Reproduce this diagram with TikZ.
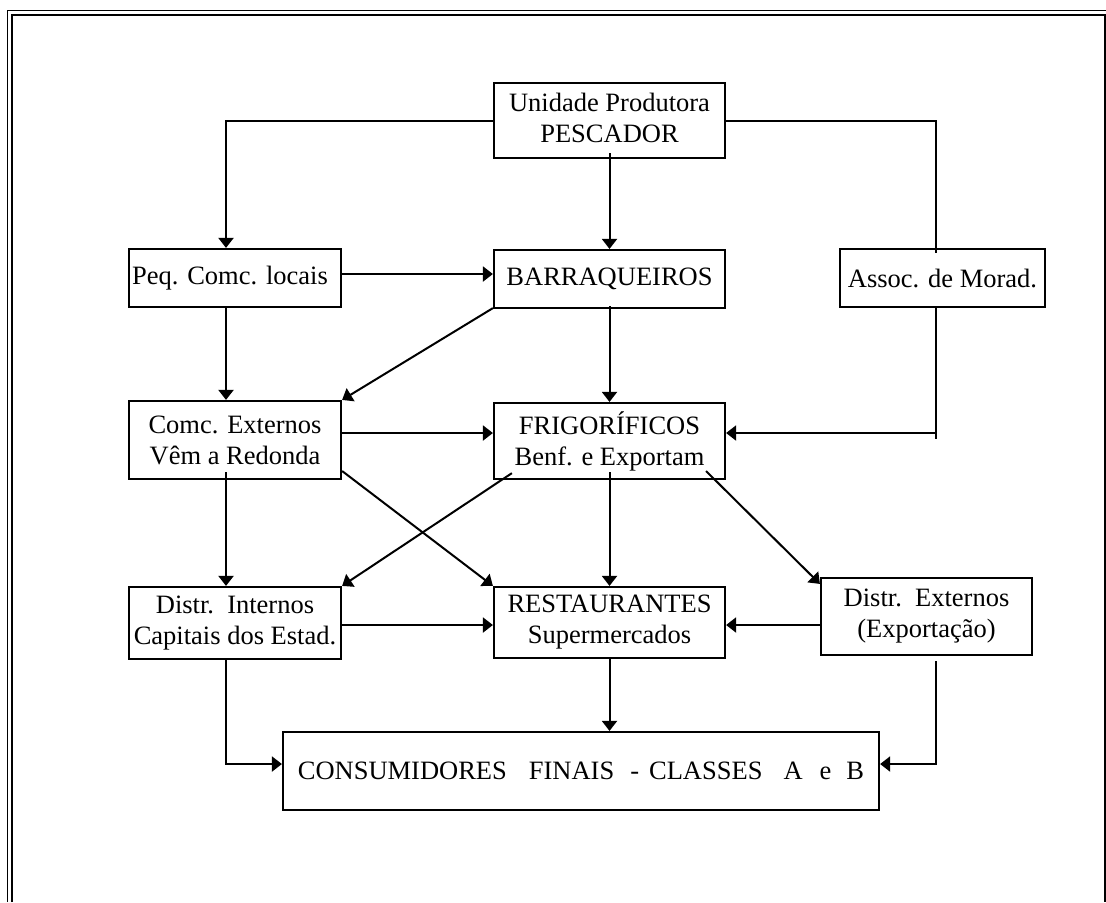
\documentclass[tikz,border=0pt]{standalone}
\usepackage{fontspec}
\setmainfont{Liberation Serif}
\usetikzlibrary{arrows.meta}
\begin{document}
\begin{tikzpicture}[x=0.5pt,y=-0.5pt,
  box/.style={draw,line width=1.1pt,inner sep=0pt,align=center,
    font=\fontsize{13.25pt}{15.5pt}\selectfont},
  conn/.style={line width=1pt,line join=miter},
  arr/.style={conn,-{Triangle[length=5pt,width=7.5pt]}},
  frameline/.style={line width=0.85pt}]
\useasboundingbox (0,0) rectangle (1106,902);
% frame
\draw[frameline] (7.5,902) -- (7.5,10.5) -- (1106,10.5);
\draw[frameline] (11.8,902) -- (11.8,14.8) -- (1105,14.8) -- (1105,902);
% column coordinates
\coordinate (xl) at (226,0);
\coordinate (xr) at (936,0);
% nodes
\node[box,minimum width=115.5pt,minimum height=37.5pt] (unid) at (609.5,120.5) {\raisebox{-1pt}{\begin{tabular}{@{}c@{}}Unidade Produtora\\PESCADOR\end{tabular}}};
\node[box,minimum width=115.5pt,minimum height=29pt] (barr) at (609.5,279) {BARRAQUEIROS};
\node[box,minimum width=106pt,minimum height=29pt] (peq) at (235,278) {\hspace*{-5pt}Peq. Comc. locais};
\node[box,minimum width=102.5pt,minimum height=29pt] (assoc) at (942.5,278) {Assoc. de Morad.};
\node[box,minimum width=106pt,minimum height=39pt] (comc) at (235,440) {Comc. Externos\\Vêm a Redonda};
\node[box,minimum width=115.5pt,minimum height=38pt] (frig) at (609.5,441) {FRIGORÍFICOS\\Benf. e Exportam};
\node[box,minimum width=106pt,minimum height=36pt] (dint) at (235,623) {Distr.\ \ Internos\\Capitais dos Estad.};
\node[box,minimum width=115.5pt,minimum height=35.5pt] (rest) at (609.5,622.5) {RESTAURANTES\\Supermercados};
\node[box,minimum width=105.5pt,minimum height=38.5pt] (dext) at (926.5,616.5) {Distr.\ \ Externos\\(Exportação)};
\node[box,minimum width=298pt,minimum height=39pt] (cons) at (581,771) {CONSUMIDORES\hspace{11pt}FINAIS\hspace{8pt}-\hspace{5pt}CLASSES\hspace{10.5pt}A\hspace{8.5pt}e\hspace{7.5pt}B};
% connectors
\draw[arr] (unid.west) -| (peq.north -| xl);
\draw[conn] (unid.east) -| ([yshift=-2.5pt]assoc.north -| xr);
\draw[arr] ([yshift=3pt]unid.south) -- (barr.north);
\draw[arr] (peq.east |- 0,274) -- (barr.west |- 0,274);
\draw[arr] ([yshift=1pt]peq.south -| xl) -- (comc.north -| xl);
\draw[arr] ([yshift=0.5pt]barr.south west) -- (comc.north east);
\draw[arr] ([yshift=1.5pt]barr.south) -- (frig.north);
\coordinate (aend) at (936,439);
\draw[conn] (assoc.south -| xr) -- (aend);
\draw[arr] (xr |- 0,433) -- (frig.east |- 0,433);
\draw[arr] (comc.east |- 0,433) -- (frig.west |- 0,433);
\draw[arr] (comc.east |- 0,471) -- (rest.north west);
\draw[arr] ([yshift=4pt]comc.south -| xl) -- (dint.north -| xl);
\draw[arr] ([xshift=9.5pt,yshift=3.5pt]frig.south west) -- (dint.north east);
\draw[arr] ([yshift=4pt]frig.south) -- (rest.north);
\draw[arr] ([xshift=-10pt,yshift=4.5pt]frig.south east) -- ([yshift=-3.5pt]dext.north west);
\draw[arr] (dint.east |- 0,625) -- (rest.west |- 0,625);
\draw[arr] (dext.west |- 0,625) -- (rest.east |- 0,625);
\draw[arr] (dint.south -| xl) |- (cons.west |- 0,764);
\draw[arr] (rest.south) -- (rest.south |- cons.north);
\draw[arr] ([yshift=-2.5pt]dext.south -| xr) |- (cons.east |- 0,764);
\end{tikzpicture}
\end{document}
